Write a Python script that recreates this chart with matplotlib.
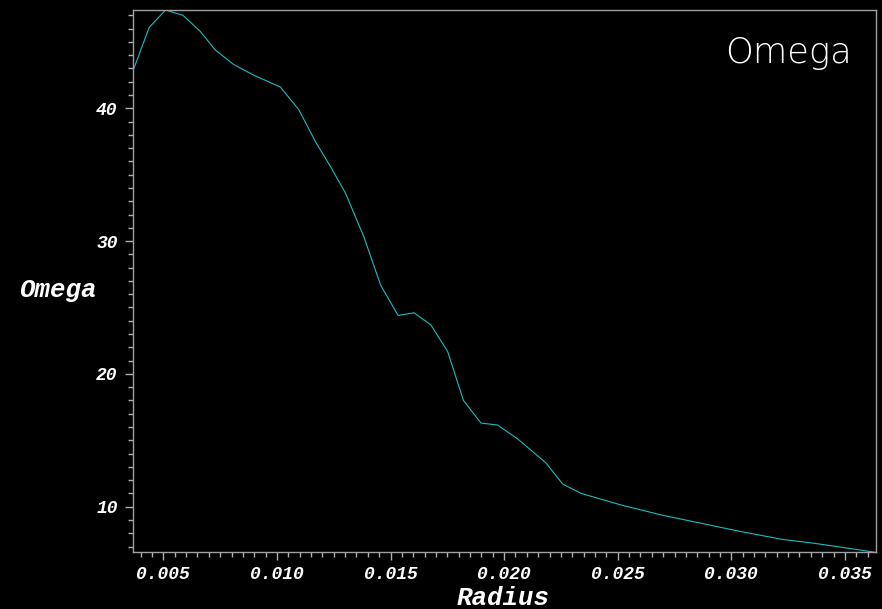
import matplotlib
matplotlib.use("Agg")
import matplotlib.pyplot as plt
from matplotlib.ticker import MultipleLocator, FormatStrFormatter

radius = [0.00368, 0.00438, 0.00510, 0.00586, 0.00662, 0.00728, 0.00809, 0.00897,
          0.01015, 0.01096, 0.01169, 0.01236, 0.01302, 0.01383, 0.01456, 0.01533,
          0.01603, 0.01677, 0.01751, 0.01821, 0.01898, 0.01971, 0.02060, 0.02184,
          0.02258, 0.02339, 0.02515, 0.02692, 0.02868, 0.03045, 0.03221, 0.03368,
          0.03516, 0.03633]
omega = [42.9, 46.1, 47.4, 47.0, 45.8, 44.4, 43.3, 42.5,
         41.6, 39.9, 37.5, 35.6, 33.6, 30.3, 26.7, 24.4,
         24.6, 23.7, 21.7, 18.0, 16.3, 16.15, 15.1, 13.3,
         11.7, 11.0, 10.13, 9.38, 8.75, 8.12, 7.55, 7.24,
         6.87, 6.57]

W, H = 882, 609
fig = plt.figure(figsize=(W / 100, H / 100), dpi=100, facecolor='black')
ax = fig.add_axes([133 / W, 1 - 552 / H, (876 - 133) / W, (552 - 10) / H])
ax.set_facecolor('black')

ax.plot(radius, omega, color='#1cbcbc', linewidth=0.8)

ax.set_xlim(0.003663, 0.03637)
ax.set_ylim(6.59, 47.4)

ax.xaxis.set_major_locator(MultipleLocator(0.005))
ax.xaxis.set_minor_locator(MultipleLocator(0.0005))
ax.yaxis.set_major_locator(MultipleLocator(10))
ax.yaxis.set_minor_locator(MultipleLocator(1))
ax.xaxis.set_major_formatter(FormatStrFormatter('%.3f'))
ax.yaxis.set_major_formatter(FormatStrFormatter('%d'))

for s in ax.spines.values():
    s.set_color('#a0a0a0')
    s.set_linewidth(1.0)

ax.tick_params(axis='both', which='major', direction='out', length=6, width=1.0,
               color='#b0b0b0', labelcolor='white')
ax.tick_params(axis='both', which='minor', direction='out', length=3.5, width=1.0,
               color='#b0b0b0')
ax.tick_params(axis='x', which='major', pad=4)
ax.tick_params(axis='y', which='major', pad=5)

for lab in ax.get_xticklabels() + ax.get_yticklabels():
    lab.set_fontfamily(['Liberation Mono', 'DejaVu Sans Mono'])
    lab.set_fontweight('bold')
    lab.set_fontstyle('italic')
    lab.set_fontsize(13)

label_font = dict(family=['Liberation Mono', 'DejaVu Sans Mono'], weight='bold',
                  style='italic', size=18.5, color='white')
fig.text(19 / W, 1 - 290 / H, 'Omega', ha='left', va='center', **label_font)
fig.text(503 / W, 1 - 598 / H, 'Radius', ha='center', va='center', **label_font)

fig.text(852 / W, 1 - 63.3 / H, 'Omega', ha='right', va='baseline',
         family=['DejaVu Sans'], weight='light', size=25.5, color='white')

fig.savefig('out.png', dpi=100, facecolor='black')
